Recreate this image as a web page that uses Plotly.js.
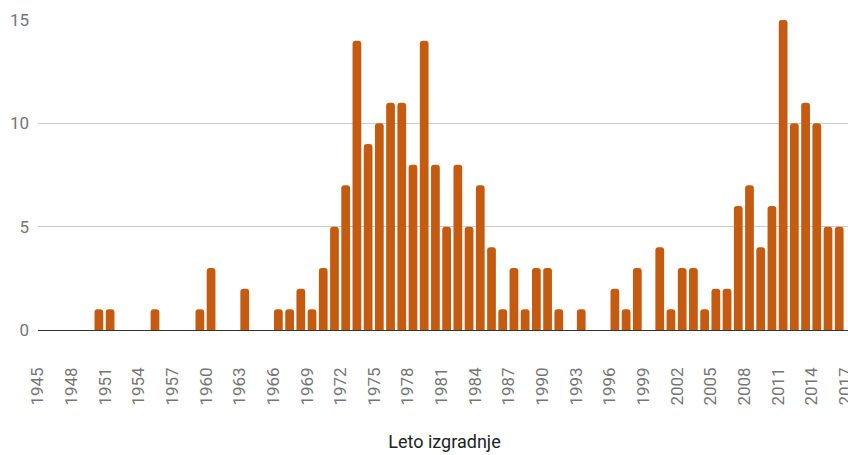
<!DOCTYPE html>
<html>
<head>
<meta charset="utf-8">
<script src="https://cdn.plot.ly/plotly-3.0.1.min.js"></script>
<style>
  html, body { margin: 0; padding: 0; background: #fff; overflow: hidden; }
  #chart { width: 851px; height: 455px; }
</style>
</head>
<body>
<div id="chart"></div>
<script>
const years = [1945, 1946, 1947, 1948, 1949, 1950, 1951, 1952, 1953, 1954,
  1955, 1956, 1957, 1958, 1959, 1960, 1961, 1962, 1963, 1964,
  1965, 1966, 1967, 1968, 1969, 1970, 1971, 1972, 1973, 1974,
  1975, 1976, 1977, 1978, 1979, 1980, 1981, 1982, 1983, 1984,
  1985, 1986, 1987, 1988, 1989, 1990, 1991, 1992, 1993, 1994,
  1995, 1996, 1997, 1998, 1999, 2000, 2001, 2002, 2003, 2004,
  2005, 2006, 2007, 2008, 2009, 2010, 2011, 2012, 2013, 2014,
  2015, 2016];
const counts = [0, 0, 0, 0, 0, 1, 1, 0, 0, 0,
  1, 0, 0, 0, 1, 3, 0, 0, 2, 0,
  0, 1, 1, 2, 1, 3, 5, 7, 14, 9,
  10, 11, 11, 8, 14, 8, 5, 8, 5, 7,
  4, 1, 3, 1, 3, 3, 1, 0, 1, 0,
  0, 2, 1, 3, 0, 4, 1, 3, 3, 1,
  2, 2, 6, 7, 4, 6, 15, 10, 11, 10,
  5, 5];
const xTicks = [1945, 1948, 1951, 1954, 1957, 1960, 1963, 1966, 1969, 1972,
  1975, 1978, 1981, 1984, 1987, 1990, 1993, 1996, 1999, 2002,
  2005, 2008, 2011, 2014, 2017];
const yTicks = [0, 5, 10, 15];
const xTitle = 'Leto izgradnje';

const trace = {
  type: 'bar',
  x: years,
  y: counts,
  width: 0.78,
  marker: { color: '#c55a11', cornerradius: 3 },
  hoverinfo: 'x+y'
};

const layout = {
  width: 851,
  height: 455,
  margin: { l: 38, r: 0, t: 20, b: 125, pad: 0 },
  paper_bgcolor: '#ffffff',
  plot_bgcolor: '#ffffff',
  font: { family: 'Roboto, Arial, sans-serif', size: 17, color: '#757575' },
  showlegend: false,
  xaxis: {
    range: [1944.57, 2017.05],
    tickmode: 'array',
    tickvals: xTicks,
    ticktext: xTicks.map(String),
    tickangle: -90,
    ticks: '',
    showgrid: false,
    zeroline: false,
    showline: false,
    ticklabelshift: -5,
    ticklabelstandoff: 33,
    ticklabeloverflow: 'allow',
    tickfont: { family: 'Roboto, Arial, sans-serif', size: 17, color: '#757575' },
    title: {
      text: xTitle,
      font: { family: 'Roboto, Arial, sans-serif', size: 18, color: '#222222' },
      standoff: 30
    },
    automargin: false
  },
  yaxis: {
    range: [0, 15],
    tickmode: 'array',
    tickvals: yTicks,
    ticks: '',
    showgrid: true,
    gridcolor: '#cccccc',
    gridwidth: 1,
    zeroline: true,
    zerolinecolor: '#333333',
    zerolinewidth: 1,
    showline: false,
    ticklabelstandoff: 8,
    tickfont: { family: 'Roboto, Arial, sans-serif', size: 17, color: '#757575' },
    automargin: false
  },
  bargap: 0.22
};

Plotly.newPlot('chart', [trace], layout, { displayModeBar: false, staticPlot: true });
</script>
</body>
</html>
